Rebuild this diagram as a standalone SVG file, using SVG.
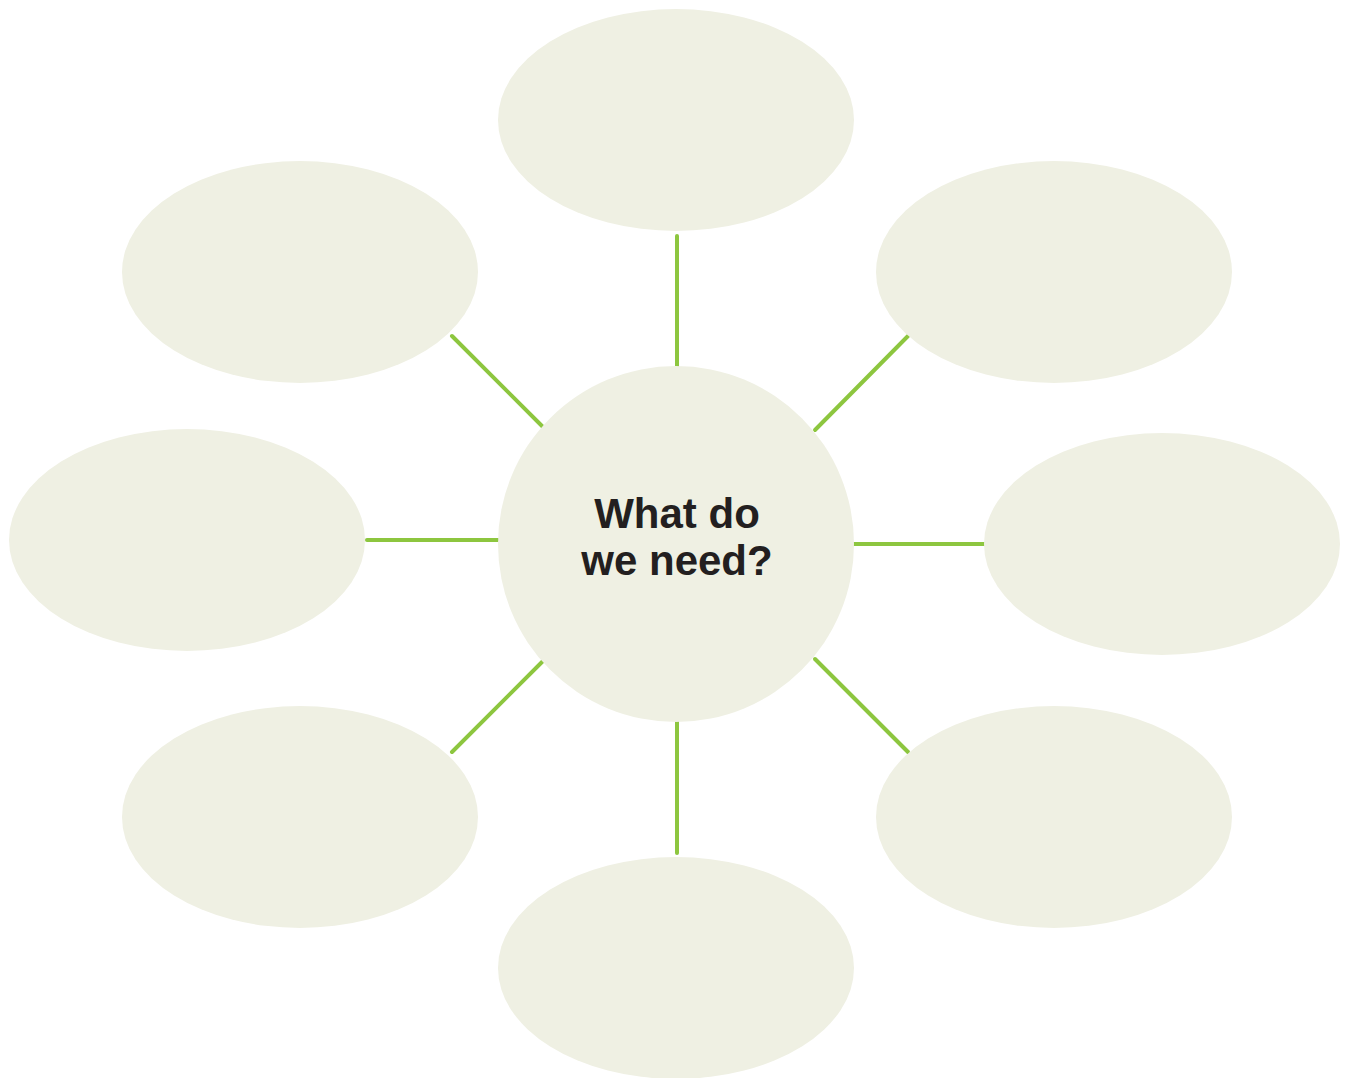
<svg xmlns="http://www.w3.org/2000/svg" width="1346" height="1078" viewBox="0 0 1346 1078">
<style>
.node{fill:#eff0e3;}
.conn{stroke:#8dc63f;stroke-width:4;stroke-linecap:round;fill:none;}
.label{font-family:"Liberation Sans",Arial,sans-serif;font-weight:bold;font-size:42px;fill:#231f20;text-anchor:middle;}
</style>
<rect width="1346" height="1078" fill="#ffffff"/>
<g id="connectors">
<line class="conn" x1="677" y1="236" x2="677" y2="367"/>
<line class="conn" x1="452" y1="336" x2="545" y2="429"/>
<line class="conn" x1="908" y1="336" x2="815" y2="430"/>
<line class="conn" x1="367" y1="540" x2="498" y2="540"/>
<line class="conn" x1="854" y1="544" x2="985" y2="544"/>
<line class="conn" x1="452" y1="752" x2="545" y2="659"/>
<line class="conn" x1="815" y1="659" x2="908" y2="752"/>
<line class="conn" x1="677" y1="721" x2="677" y2="853"/>
</g>
<g id="node-top"><ellipse class="node" cx="676" cy="120" rx="178" ry="111"/></g>
<g id="node-upper-left"><ellipse class="node" cx="300" cy="272" rx="178" ry="111"/></g>
<g id="node-upper-right"><ellipse class="node" cx="1054" cy="272" rx="178" ry="111"/></g>
<g id="node-left"><ellipse class="node" cx="187" cy="540" rx="178" ry="111"/></g>
<g id="node-right"><ellipse class="node" cx="1162" cy="544" rx="178" ry="111"/></g>
<g id="node-lower-left"><ellipse class="node" cx="300" cy="817" rx="178" ry="111"/></g>
<g id="node-lower-right"><ellipse class="node" cx="1054" cy="817" rx="178" ry="111"/></g>
<g id="node-bottom"><ellipse class="node" cx="676" cy="968" rx="178" ry="111"/></g>
<g id="node-center">
<circle class="node" cx="676" cy="544" r="178"/>
<text class="label" x="677" y="528">What do</text>
<text class="label" x="677" y="575">we need?</text>
</g>
</svg>
